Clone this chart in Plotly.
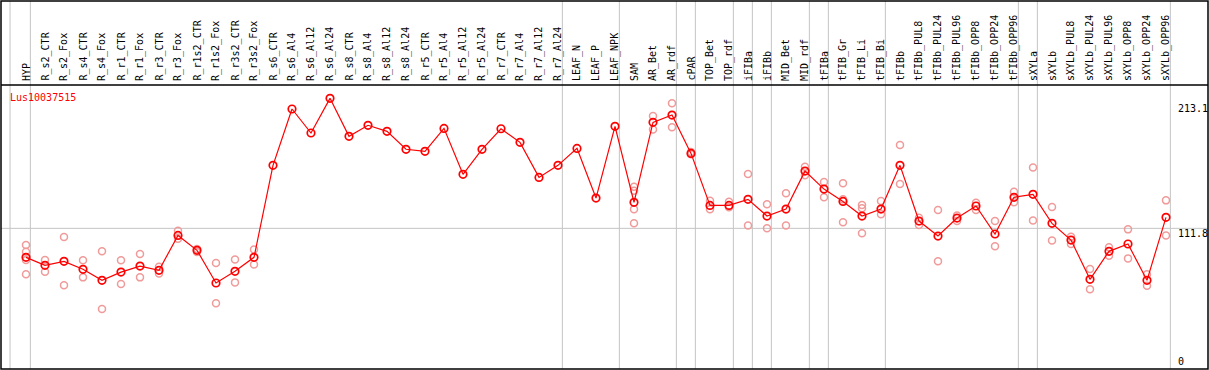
import plotly.graph_objects as go

gene_id = "Lus10037515"

categories = [
    "HYP", "R_s2_CTR", "R_s2_Fox", "R_s4_CTR", "R_s4_Fox", "R_r1_CTR", "R_r1_Fox",
    "R_r3_CTR", "R_r3_Fox", "R_r1s2_CTR", "R_r1s2_Fox", "R_r3s2_CTR", "R_r3s2_Fox",
    "R_s6_CTR", "R_s6_Al4", "R_s6_Al12", "R_s6_Al24", "R_s8_CTR", "R_s8_Al4",
    "R_s8_Al12", "R_s8_Al24", "R_r5_CTR", "R_r5_Al4", "R_r5_Al12", "R_r5_Al24",
    "R_r7_CTR", "R_r7_Al4", "R_r7_Al12", "R_r7_Al24", "LEAF_N", "LEAF_P", "LEAF_NPK",
    "SAM", "AR_Bet", "AR_rdf", "cPAR", "TOP_Bet", "TOP_rdf", "iFIBa", "iFIBb",
    "MID_Bet", "MID_rdf", "tFIBa", "tFIB_Gr", "tFIB_Li", "tFIB_Bi", "tFIBb",
    "tFIBb_PUL8", "tFIBb_PUL24", "tFIBb_PUL96", "tFIBb_OPP8", "tFIBb_OPP24",
    "tFIBb_OPP96", "sXYLa", "sXYLb", "sXYLb_PUL8", "sXYLb_PUL24", "sXYLb_PUL96",
    "sXYLb_OPP8", "sXYLb_OPP24", "sXYLb_OPP96",
]

mean_values = [
    89.2, 83.0, 86.1, 79.9, 71.3, 77.7, 82.4, 79.1, 106.3, 94.7, 69.2, 78.3, 89.2,
    160.9, 204.8, 186.1, 213.1, 183.5, 192.1, 187.4, 173.4, 171.8, 189.7, 153.9,
    173.4, 189.4, 178.8, 151.5, 160.9, 174.1, 135.4, 191.3,
    132.1, 194.4, 200.1, 170.2, 129.7, 129.7, 134.4, 121.4, 126.8, 156.4, 142.4,
    132.8, 121.4, 126.8, 160.9, 117.5, 105.8, 119.8, 129.2, 107.4, 136.0,
    138.3, 115.7, 102.7, 72.1, 93.9, 99.6, 71.3, 120.4,
]

replicate_values = [
    [98.8, 93.6, 87.1, 76.0], [87.1, 78.0], [105.0, 67.4], [86.9, 73.6], [93.9, 48.9],
    [86.9, 68.4], [91.8, 73.6], [81.9, 76.7], [109.9, 103.7], [95.7, 93.3],
    [84.8, 53.4], [87.6, 69.7], [95.4, 83.7],
    [], [], [], [], [], [], [], [], [], [], [], [], [], [], [], [], [], [], [],
    [144.2, 141.1, 126.6, 115.7], [199.3, 188.9], [209.2, 190.5], [171.2, 169.5],
    [133.3, 126.6], [132.5, 128.2], [154.1, 114.1], [130.5, 111.8], [139.1, 114.1],
    [159.8, 153.1], [147.9, 136.0], [146.9, 134.4, 116.5], [130.0, 127.4, 107.9],
    [133.1, 122.7], [176.7, 146.3], [120.1, 114.4], [126.1, 86.1], [121.9, 117.5],
    [131.7, 126.1], [117.5, 97.8], [140.3, 132.1], [159.3, 118.0], [128.4, 102.4],
    [105.3, 99.6], [80.1, 64.3], [97.0, 90.4], [111.0, 88.4], [76.0, 67.1],
    [133.6, 106.3],
]

# groups end after these categories (separator lines)
group_ends = ["HYP", "R_r7_Al24", "LEAF_NPK", "AR_rdf", "cPAR", "TOP_rdf", "iFIBa",
              "iFIBb", "MID_rdf", "tFIBa", "tFIB_Bi", "tFIBb_OPP96", "sXYLa",
              "sXYLb_OPP96"]

max_label = "213.1"
mean_label = "111.8"
mean_level = 111.8
zero_label = "0"

W, H = 1209, 370
ML, MR, MT, MB = 1, 1, 1, 1
plot_w = W - ML - MR
plot_h = H - MT - MB


def px_to_paper_y(py):
    return (H - MB - py) / plot_h


def px_to_paper_x(px):
    return (px - ML) / plot_w


xs = list(range(len(categories)))
rep_x, rep_y = [], []
for i, reps in enumerate(replicate_values):
    for v in reps:
        rep_x.append(i)
        rep_y.append(v)

data_top_px = 85
dom_top = px_to_paper_y(data_top_px)

fig = go.Figure()
fig.add_trace(go.Scatter(
    x=rep_x, y=rep_y, mode="markers",
    marker=dict(symbol="circle-open", size=7, color="#f09a9a", line=dict(width=1.5)),
    hoverinfo="skip", showlegend=False,
))
fig.add_trace(go.Scatter(
    x=xs, y=mean_values, mode="lines+markers",
    line=dict(color="#ff0000", width=1.2),
    marker=dict(symbol="circle-open", size=7.5, color="#ff0000", line=dict(width=1.7)),
    showlegend=False,
))

shapes = []
shapes.append(dict(type="line", xref="x", yref="paper", x0=-0.84, x1=-0.84, y0=0, y1=1,
                   line=dict(color="#c4c4c4", width=1), layer="below"))
for name in group_ends:
    xv = categories.index(name) + 0.23
    shapes.append(dict(type="line", xref="x", yref="paper", x0=xv, x1=xv, y0=0, y1=1,
                       line=dict(color="#c4c4c4", width=1), layer="below"))
shapes.append(dict(type="line", xref="paper", yref="y", x0=0, x1=1, y0=mean_level, y1=mean_level,
                   line=dict(color="#c4c4c4", width=1), layer="below"))
shapes.append(dict(type="line", xref="paper", yref="paper", x0=0, x1=1, y0=dom_top, y1=dom_top,
                   line=dict(color="black", width=1.5)))
shapes.append(dict(type="rect", xref="paper", yref="paper", x0=0, x1=1, y0=0, y1=1,
                   line=dict(color="black", width=1.5)))

font = "DejaVu Sans Mono"
annotations = []
for i, name in enumerate(categories):
    annotations.append(dict(
        x=i, y=px_to_paper_y(83), xref="x", yref="paper", text=name, textangle=-90,
        showarrow=False, xanchor="center", yanchor="bottom",
        font=dict(family=font, size=10, color="black"),
    ))
annotations.append(dict(x=px_to_paper_x(8), y=px_to_paper_y(97), xref="paper", yref="paper",
                        text=gene_id, showarrow=False, xanchor="left", yanchor="middle",
                        font=dict(family=font, size=10, color="#ff0000")))
for txt, py in [(max_label, 108), (mean_label, 233), (zero_label, 361.5)]:
    annotations.append(dict(x=px_to_paper_x(1175.5), y=px_to_paper_y(py), xref="paper", yref="paper",
                            text=txt, showarrow=False, xanchor="left", yanchor="middle",
                            font=dict(family=font, size=10, color="black")))

left = -(26 - ML) / 19
right = (W - MR - 26) / 19
y_low, y_high = 2.2, 223.5

fig.update_layout(
    width=W, height=H,
    margin=dict(l=ML, r=MR, t=MT, b=MB, pad=0),
    paper_bgcolor="white", plot_bgcolor="white",
    hovermode=False,
    xaxis=dict(range=[left, right], showgrid=False, zeroline=False, showticklabels=False,
               ticks="", showline=False),
    yaxis=dict(range=[y_low, y_high], domain=[0, dom_top], showgrid=False, zeroline=False,
               showticklabels=False, ticks="", showline=False),
    shapes=shapes, annotations=annotations,
)

fig.write_html("out.html", config={"displayModeBar": False},
               post_script="document.body.style.margin='0';document.body.style.overflow='hidden';")
